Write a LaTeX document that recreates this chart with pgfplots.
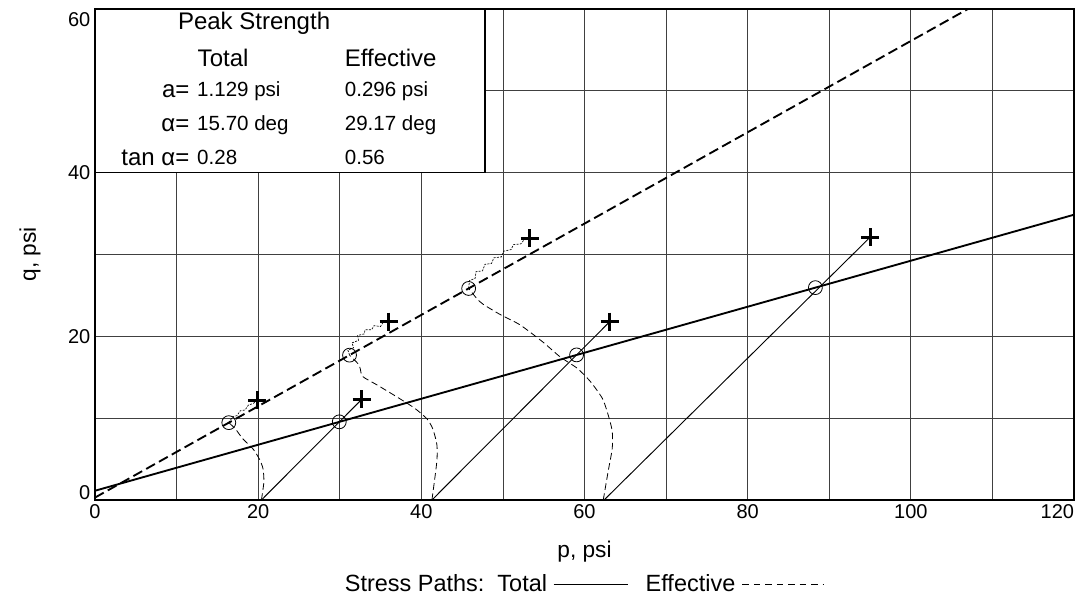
\documentclass[border=0pt]{standalone}
\usepackage{fontspec}
\setmainfont{Liberation Sans}
\usepackage{pgfplots}
\pgfplotsset{compat=1.18}

\newcommand\tsz{\fontsize{15.4}{18}\selectfont}
\newcommand\hsz{\fontsize{18}{21}\selectfont}

\begin{document}
\begin{tikzpicture}
\begin{axis}[name=ax,
  scale only axis, width=734.25pt, height=368.25pt,
  xmin=0, xmax=120, ymin=0, ymax=60,
  xtick={0,10,...,120}, ytick={0,10,...,60},
  xticklabels={0,,20,,40,,60,,80,,100,,\makebox[0pt][r]{120}},
  yticklabels={\raisebox{0pt}[0pt][0pt]{0},,20,,40,,\raisebox{-13.5pt}[0pt][0pt]{60}},
  grid=major, major grid style={black!75, line width=0.6pt},
  major tick length=0pt,
  axis line style={line width=1.1pt},
  tick label style={font=\fontsize{15}{17}\selectfont},
  label style={font=\fontsize{17}{20}\selectfont},
  xlabel={p, psi}, ylabel={q, psi},
  xlabel style={at={([yshift=-39pt]axis description cs:0.5,0)}, anchor=center},
  ylabel style={at={([xshift=-48.75pt]axis description cs:0,0.5)}, anchor=center},
]
% failure envelopes
\addplot[black, line width=1.4pt] coordinates {(0,1.129) (120,34.86)};
\addplot[black, line width=1.4pt, dash pattern=on 7.5pt off 3.5pt] coordinates {(0,0.296) (107.0,60.0)};

% total stress paths
\addplot[black, line width=0.7pt] coordinates {(20.4,0) (32.7,12.3)};
\addplot[black, line width=0.7pt] coordinates {(41.3,0) (63.1,21.8)};
\addplot[black, line width=0.7pt] coordinates {(62.4,0) (95.0,32.1)};

% effective stress paths up to peak
\addplot[black, line width=0.6pt, dash pattern=on 5pt off 2.7pt, smooth, tension=0.4] coordinates {
  (20.4,0) (20.7,2.2) (20.6,3.8) (20.2,4.9) (19.4,6.2) (18.1,7.5) (17.2,8.7) (16.4,9.45)};
\addplot[black, line width=0.6pt, dash pattern=on 5pt off 2.7pt, smooth, tension=0.4] coordinates {
  (41.3,0) (41.9,4.7) (41.9,6.8) (41.4,8.7) (40.7,9.9) (39.2,11.2) (37.0,12.6) (34.5,14.1)
  (32.8,15.1) (32.5,16.1) (32.2,16.7) (31.2,17.7)};
\addplot[black, line width=0.6pt, dash pattern=on 5pt off 2.7pt, smooth, tension=0.4] coordinates {
  (62.3,0) (62.9,3.5) (63.4,6.3) (63.4,8.4) (62.9,10.4) (62.2,12.4) (60.7,14.5) (59.1,16.1)
  (57.0,17.5) (54.9,19.3) (52.1,21.4) (49.6,22.7) (47.6,23.9) (46.9,24.5) (46.4,25.1) (45.8,25.85)};

% effective stress paths after peak
\addplot[black, line width=0.5pt, dash pattern=on 1.5pt off 1pt] coordinates {
  (16.4,9.45) (16.9,10.2) (17.4,10.3) (17.8,10.9) (18.4,11.0) (18.8,11.6) (19.4,11.8) (19.9,12.2)};
\addplot[black, line width=0.5pt, dash pattern=on 1.5pt off 1pt] coordinates {
  (31.2,17.7) (31.0,18.3) (31.7,18.6) (31.5,19.2) (32.3,19.5) (32.2,20.1) (33.0,20.3)
  (33.1,20.8) (33.9,20.8) (34.2,21.3) (35.0,21.2) (35.3,21.7) (36.0,21.8)};
\addplot[black, line width=0.5pt, dash pattern=on 1.5pt off 1pt] coordinates {
  (45.8,25.85) (45.9,26.8) (46.6,27.1) (46.7,27.9) (47.5,28.0) (47.8,28.8) (48.6,28.9)
  (48.9,29.6) (49.8,29.7) (50.1,30.4) (51.0,30.6) (51.3,31.2) (52.2,31.3) (52.6,31.8) (53.3,32.0)};

% peak points (circles) and end points (crosses)
\addplot[black, only marks, mark=o, mark size=5.2pt, mark options={line width=0.6pt}] coordinates {
  (29.94,9.55) (59.03,17.73) (88.3,25.95) (16.4,9.45) (31.2,17.7) (45.8,25.85)};
\addplot[black, only marks, mark=+, mark size=6.8pt, mark options={line width=2.3pt}] coordinates {
  (32.7,12.3) (63.1,21.8) (95.0,32.1) (19.9,12.2) (36.0,21.8) (53.3,32.0)};

% strength parameter table
\draw[line width=0.9pt, fill=white] (axis cs:0,40) rectangle (axis cs:47.8,60);
\node[font=\hsz] at (axis cs:19.5,58.2) {Peak Strength};
\node[font=\hsz] at (axis cs:15.7,54.0) {Total};
\node[font=\hsz, anchor=west, inner sep=0pt] at (axis cs:30.6,54.0) {Effective};
\node[font=\hsz, anchor=east, inner sep=0pt] at (axis cs:11.6,50.0) {a=};
\node[font=\tsz, anchor=west, inner sep=0pt] at (axis cs:12.5,50.0) {1.129 psi};
\node[font=\tsz, anchor=west, inner sep=0pt] at (axis cs:30.6,50.0) {0.296 psi};
\node[font=\hsz, anchor=east, inner sep=0pt] at (axis cs:11.6,45.8) {α=};
\node[font=\tsz, anchor=west, inner sep=0pt] at (axis cs:12.5,45.8) {15.70 deg};
\node[font=\tsz, anchor=west, inner sep=0pt] at (axis cs:30.6,45.8) {29.17 deg};
\node[font=\hsz, anchor=east, inner sep=0pt] at (axis cs:11.6,41.8) {tan α=};
\node[font=\tsz, anchor=west, inner sep=0pt] at (axis cs:12.5,41.8) {0.28};
\node[font=\tsz, anchor=west, inner sep=0pt] at (axis cs:30.6,41.8) {0.56};
\end{axis}

\node[font=\fontsize{17.6}{20}\selectfont, anchor=center] at ([yshift=-62.25pt]ax.south) {Stress Paths:\ \ Total\hspace{5pt}\raisebox{0.3em}{\rule{56pt}{0.6pt}}\hspace{13pt}Effective\hspace{5pt}\tikz[baseline]\draw[line width=0.6pt, dash pattern=on 5pt off 3.6pt] (0,0.3em) -- (61pt,0.3em);};

\pgfresetboundingbox
\path ([shift={(-71.25pt,-78pt)}]ax.south west) rectangle ([shift={(3.75pt,6.75pt)}]ax.north east);
\end{tikzpicture}
\end{document}
